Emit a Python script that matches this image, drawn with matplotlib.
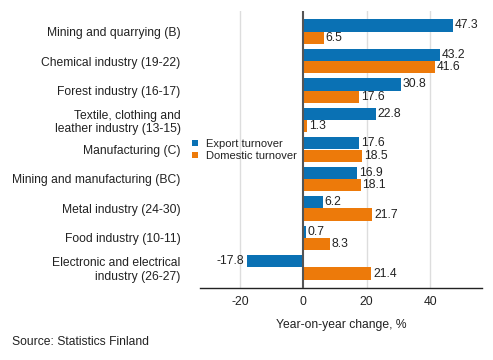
import matplotlib
matplotlib.use("Agg")
import matplotlib.pyplot as plt
import numpy as np

plt.rcParams['font.family'] = ['Liberation Sans', 'DejaVu Sans']

categories = ["Mining and quarrying (B)", "Chemical industry (19-22)", "Forest industry (16-17)",
              "Textile, clothing and\nleather industry (13-15)", "Manufacturing (C)",
              "Mining and manufacturing (BC)", "Metal industry (24-30)", "Food industry (10-11)",
              "Electronic and electrical\nindustry (26-27)"]
export = [47.3, 43.2, 30.8, 22.8, 17.6, 16.9, 6.2, 0.7, -17.8]
domestic = [6.5, 41.6, 17.6, 1.3, 18.5, 18.1, 21.7, 8.3, 21.4]
series_names = ["Export turnover", "Domestic turnover"]
xticks = [-20, 0, 20, 40]

c_exp = '#0a71b4'
c_dom = '#ed7a0a'

fig = plt.figure(figsize=(4.93, 3.6), dpi=100)
ax = fig.add_axes([200/493, 1-288/360, (482-200)/493, (288-11)/360])

y = np.arange(len(categories))
h = 0.41
ax.barh(y - h/2, export, height=h, color=c_exp, label=series_names[0], zorder=3)
ax.barh(y + h/2, domestic, height=h, color=c_dom, label=series_names[1], zorder=3)

fs = 8.7
tc = '#222222'
for yi, v in zip(y - h/2, export):
    if v >= 0:
        ax.text(v + 0.6, yi, f"{v:.1f}", va='center', ha='left', fontsize=fs, color=tc)
    else:
        ax.text(v - 0.8, yi, f"{v:.1f}", va='center', ha='right', fontsize=fs, color=tc)
for yi, v in zip(y + h/2, domestic):
    ax.text(v + 0.6, yi, f"{v:.1f}", va='center', ha='left', fontsize=fs, color=tc)

pad = 0.695
ax.set_xlim(-32.6, 56.4)
ax.set_ylim(len(categories) - 1 + pad, -pad)
ax.set_yticks(y)
ax.set_yticklabels(categories, fontsize=fs, color=tc)
ax.set_xticks(xticks)
ax.set_xticklabels([str(t) for t in xticks], fontsize=fs, color=tc)
ax.tick_params(axis='both', length=0, pad=6)
ax.tick_params(axis='y', pad=14)

for t in xticks:
    if t != 0:
        ax.axvline(t, color='#dddddd', lw=1, zorder=0)
ax.axvline(0, color='#555555', lw=1.5, zorder=4)

for s in ['left', 'right', 'top']:
    ax.spines[s].set_visible(False)
ax.spines['bottom'].set_color('#222222')
ax.spines['bottom'].set_linewidth(1)

ax.set_xlabel("Year-on-year change, %", fontsize=fs, color=tc, labelpad=8)

leg = ax.legend(loc='upper left', bbox_to_anchor=(-0.035, 0.545), frameon=False, fontsize=8,
                handlelength=0.5, handleheight=0.5, handletextpad=0.7, labelspacing=0.15,
                borderaxespad=0, borderpad=0.2)
for t in leg.get_texts():
    t.set_color(tc)

fig.text(12/493, 1-342/360, "Source: Statistics Finland", fontsize=fs, color=tc, va='center')

fig.savefig("out.png", dpi=100)
